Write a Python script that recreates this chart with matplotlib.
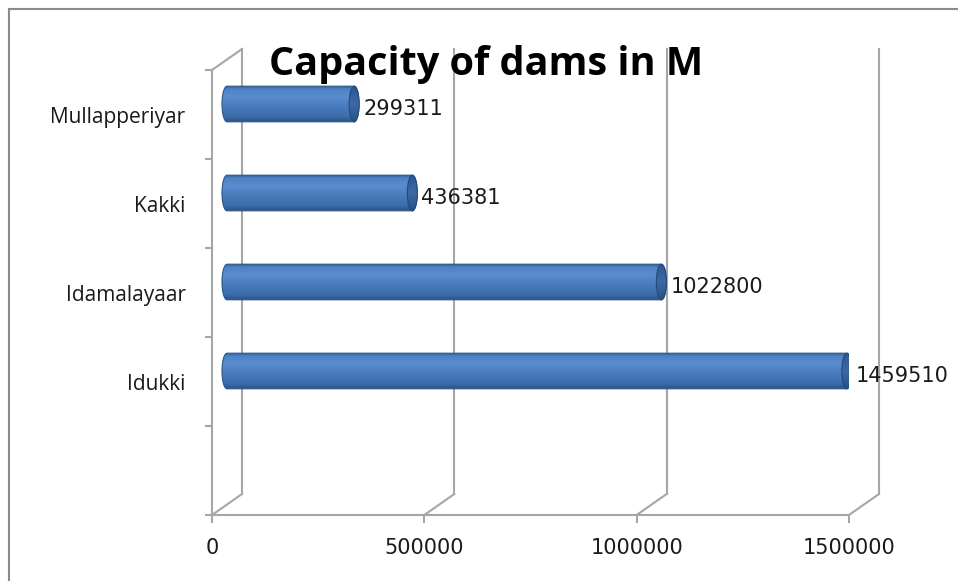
import numpy as np
import matplotlib
matplotlib.use("Agg")
import matplotlib.pyplot as plt
from matplotlib.colors import LinearSegmentedColormap
from matplotlib.patches import PathPatch, Ellipse
from matplotlib.path import Path
from matplotlib.lines import Line2D

# Data (bottom to top)
dams = ["Idukki", "Idamalayaar", "Kakki", "Mullapperiyar"]
capacity = [1459510, 1022800, 436381, 299311]
x_ticks = [0, 500000, 1000000, 1500000]
x_max = 1500000

W, H = 958, 581
fig = plt.figure(figsize=(W / 100, H / 100), dpi=100)
fig.patch.set_facecolor("white")

# front plane of the 3-D box, in pixels
left, right, top, bottom = 212, 849, 70, 515
ax = fig.add_axes([left / W, 1 - bottom / H, (right - left) / W, (bottom - top) / H])
n_slots = len(dams) + 1  # Excel keeps an empty slot at the bottom

px_x = x_max / (right - left)      # data units per pixel
px_y = n_slots / (bottom - top)
depth_x, depth_y = 30 * px_x, 21 * px_y

grid_col = "#a6a6a6"

# back wall and floor lines
for t in x_ticks:
    ax.plot([t + depth_x] * 2, [-0.5 + depth_y, n_slots - 0.5 + depth_y],
            color=grid_col, lw=1.5, clip_on=False, zorder=1)
    ax.plot([t, t + depth_x], [-0.5, -0.5 + depth_y],
            color=grid_col, lw=1.5, clip_on=False, zorder=1)
ax.plot([0, depth_x], [n_slots - 0.5, n_slots - 0.5 + depth_y],
        color=grid_col, lw=1.5, clip_on=False, zorder=1)

body_cmap = LinearSegmentedColormap.from_list(
    "body", [(0.0, "#30609b"), (0.08, "#4f82c4"), (0.3, "#5a8dcf"),
             (0.55, "#4a7dbe"), (0.85, "#3c6cab"), (1.0, "#2a5285")])
cap_cmap = LinearSegmentedColormap.from_list(
    "cap", [(0.0, "#2b5690"), (0.5, "#3d69a5"), (1.0, "#284f83")])
grad = np.linspace(0, 1, 200).reshape(-1, 1)

a = 5 * px_x   # half width of the end ellipses
hh = 0.2       # half thickness of a cylinder
for i, v in enumerate(capacity):
    yc = i + 1 + depth_y / 2
    x0 = depth_x / 2
    x1 = v + depth_x / 2
    tr = np.linspace(np.pi / 2, -np.pi / 2, 40)
    tl = np.linspace(-np.pi / 2, np.pi / 2, 40)
    verts = [(x0, yc + hh)]
    verts += list(zip(x1 + a * np.cos(tr), yc + hh * np.sin(tr)))
    verts += list(zip(x0 - a * np.cos(tl), yc + hh * np.sin(tl)))
    body = PathPatch(Path(verts + [verts[0]]), facecolor="none",
                     edgecolor="#2b5589", lw=0.8, zorder=3)
    ax.add_patch(body)
    im = ax.imshow(grad, extent=[x0 - a, x1 + a, yc - hh, yc + hh],
                   cmap=body_cmap, aspect="auto", origin="upper", zorder=2)
    im.set_clip_path(body)

    cap = Ellipse((x1, yc), 2 * a, 2 * hh, facecolor="none",
                  edgecolor="#244b7d", lw=0.8, zorder=5)
    ax.add_patch(cap)
    im2 = ax.imshow(grad, extent=[x1 - a, x1 + a, yc - hh, yc + hh],
                    cmap=cap_cmap, aspect="auto", origin="upper", zorder=4)
    im2.set_clip_path(cap)

    ax.text(x1 + a + 4 * px_x, i + 1 + 0.06, f"{v}", ha="left", va="center",
            fontsize=15, family="DejaVu Sans", color="#1a1a1a", zorder=6)

ax.set_xlim(0, x_max)
ax.set_ylim(-0.5, n_slots - 0.5)

# axes
for s in ["top", "right"]:
    ax.spines[s].set_visible(False)
for s in ["left", "bottom"]:
    ax.spines[s].set_color(grid_col)
    ax.spines[s].set_linewidth(1.5)
ax.set_facecolor("none")

ax.set_xticks(x_ticks)
ax.set_xticklabels([str(t) for t in x_ticks])
ax.tick_params(axis="x", length=5.5, width=1.5, color=grid_col, pad=11,
               labelsize=15, labelcolor="#1a1a1a")

ax.set_yticks(np.arange(-0.5, n_slots, 1.0))
ax.set_yticklabels([])
ax.set_yticks(np.arange(1, n_slots), minor=True)
ax.set_yticklabels(dams, minor=True, family="Open Sans", fontsize=15, color="#1a1a1a")
ax.tick_params(axis="y", which="major", length=5, width=1.5, color=grid_col)
ax.tick_params(axis="y", which="minor", length=0, pad=19)

fig.text(486 / W, 1 - 75 / H, "Capacity of dams in M", ha="center", va="baseline",
         fontsize=28.5, fontweight="bold", family="Open Sans", color="black")

# chart area border (only left and top edges are inside the picture)
fig.add_artist(Line2D([8.5 / W, 8.5 / W], [0, 1 - 8.5 / H],
                      transform=fig.transFigure, color="#8a8a8a", lw=1.5))
fig.add_artist(Line2D([8.5 / W, 1], [1 - 8.5 / H, 1 - 8.5 / H],
                      transform=fig.transFigure, color="#8a8a8a", lw=1.5))

fig.savefig("out.png", dpi=100)
